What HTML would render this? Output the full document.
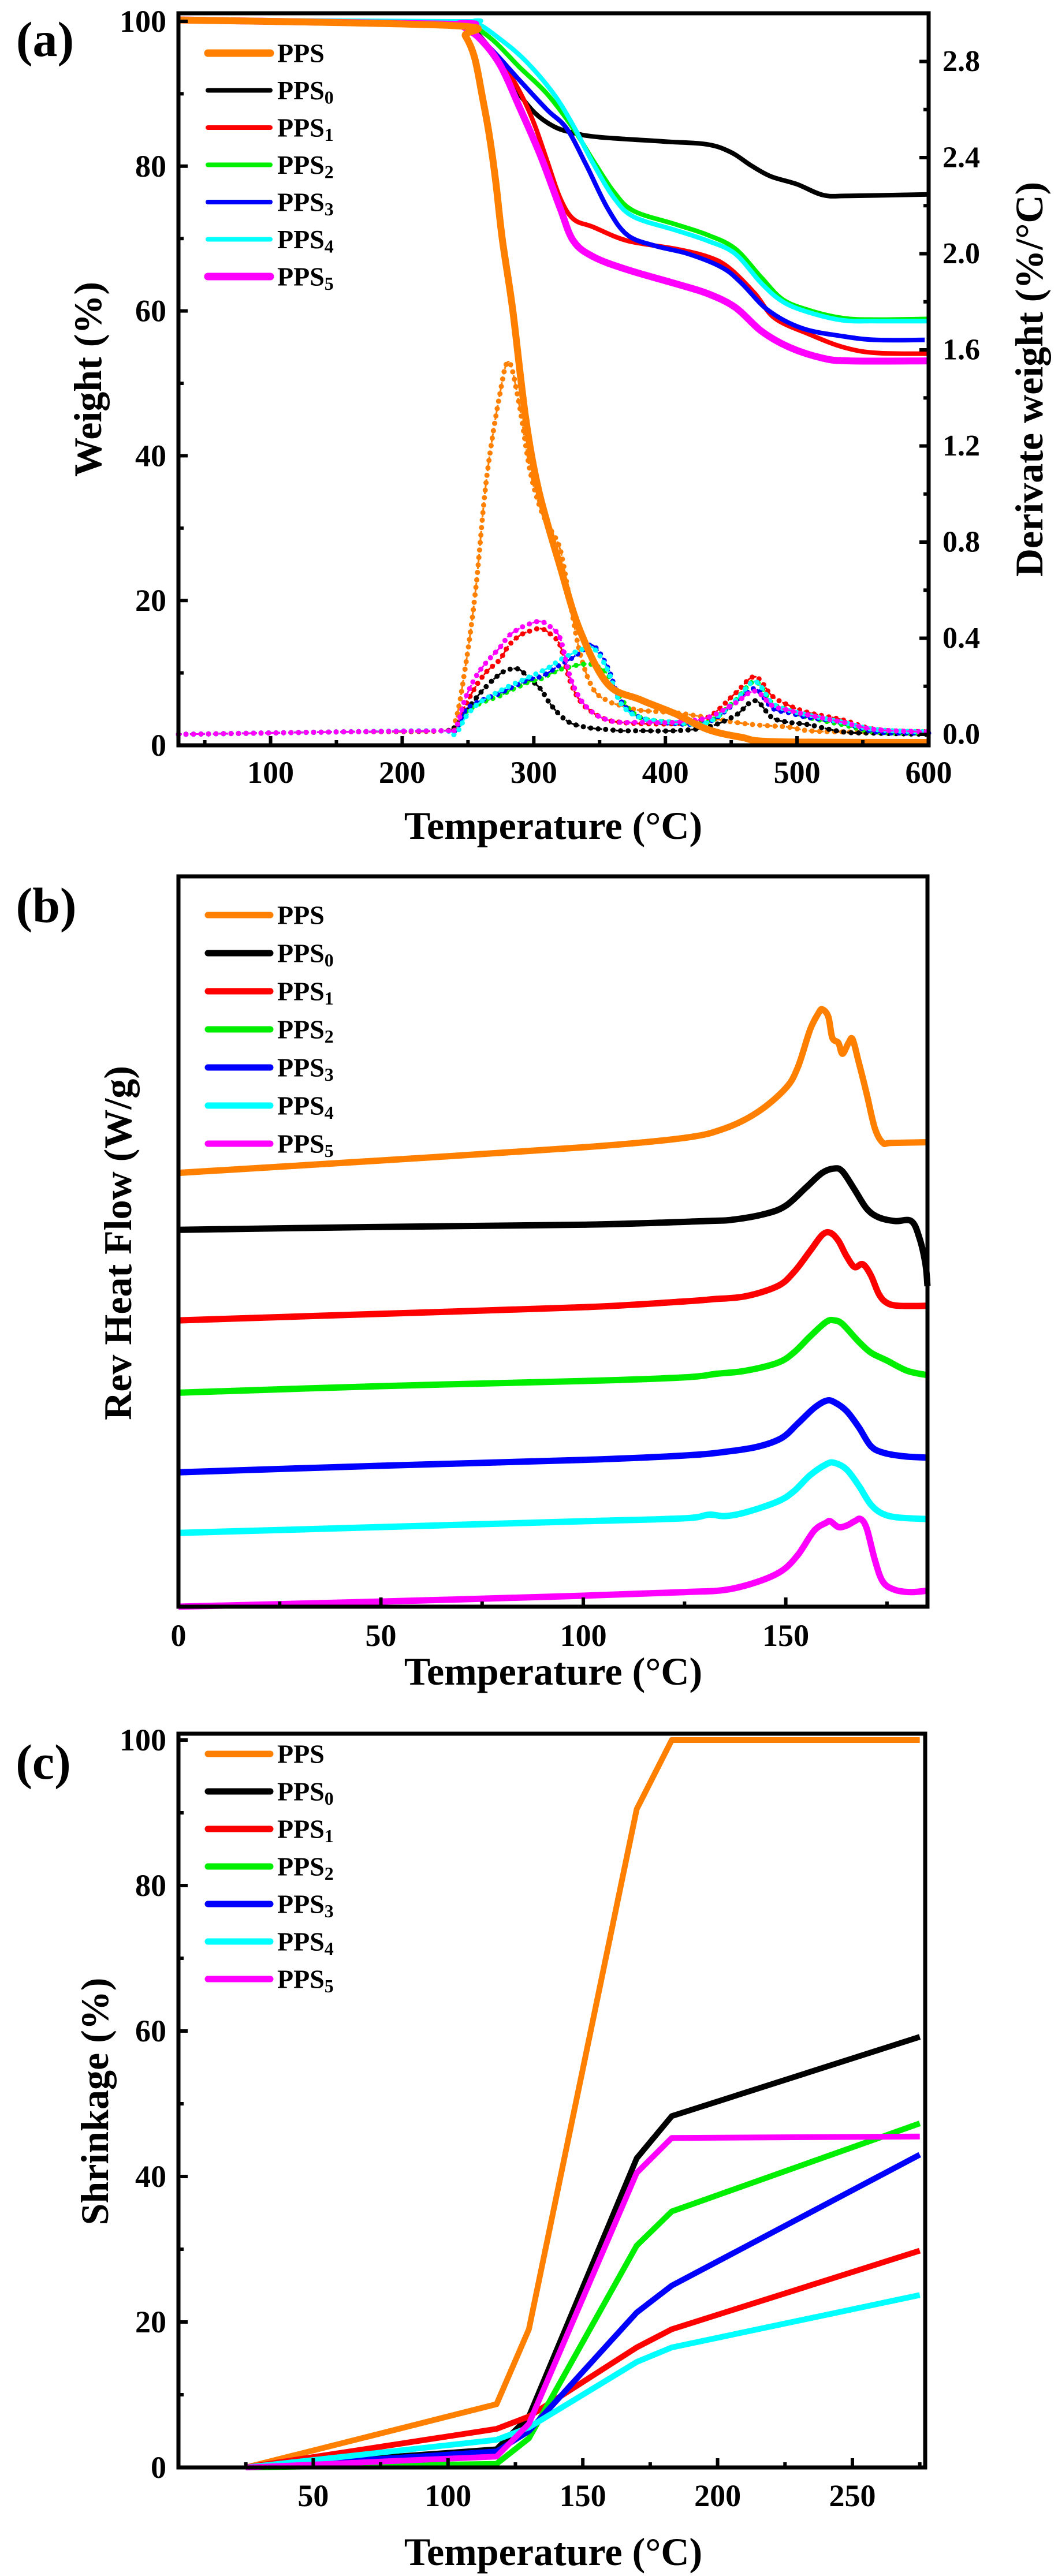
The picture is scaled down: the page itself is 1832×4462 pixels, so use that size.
<!DOCTYPE html>
<html><head><meta charset="utf-8"><style>
html,body{margin:0;padding:0;background:#fff}
svg{display:block}
text{font-family:"Liberation Serif","Times New Roman",serif;font-weight:bold;fill:#000}
</style></head><body>
<svg id="fig" xmlns="http://www.w3.org/2000/svg" width="1832" height="4462" viewBox="0 0 1832 4462" font-family="Liberation Serif, Times New Roman, serif" font-weight="bold"></svg>
<script>
// ---------- shared ----------
const names = ["PPS","PPS0","PPS1","PPS2","PPS3","PPS4","PPS5"];
const colors = ["#ff8000","#000000","#ff0000","#00ee00","#0000ff","#00ffff","#ff00ff"];

// ---------- panel (a) TGA data ----------
const tgaT = [
 [30,240,248,255,261,266,271,276,284,294,304,320,335,356,381,407,432,458,484,600],
 [30,240,250,270,285,300,315,330,350,400,432,450,465,480,500,520,540,600],
 [30,240,250,260,274,289,300,310,320,330,345,371,407,432,448,468,483,509,535,560,600],
 [30,240,250,269,289,310,330,345,361,376,407,432,453,473,489,509,535,560,600],
 [30,240,248,269,289,310,325,340,356,371,392,417,443,458,478,504,535,560,597],
 [30,240,255,274,294,315,330,345,361,376,407,432,453,473,489,509,535,560,600],
 [30,240,243,258,274,289,305,320,330,345,371,407,432,453,473,494,519,540,600]
];
const tgaW = [
 [100.2,99.4,98,95,89.5,84.5,78,70,60.1,45,35,24.7,15.9,8.5,6.3,4.4,2.2,1.1,0.5,0.4],
 [100.2,99.6,99.6,95.5,91,87.5,85.5,84.6,84,83.4,83,81.9,80.1,78.6,77.5,76,75.9,76.1],
 [100.2,99.5,99,97.5,94.8,90.4,86,80.8,75.6,72.7,71.6,69.7,68.6,67.5,66,62.4,59,56.8,55,54.2,54.1],
 [100.2,99.9,99.8,97.4,93.7,90,85.2,80.8,76.4,73.8,72,70.5,68.6,64.6,61.6,60.1,59,58.8,58.9],
 [100.2,99.7,99.4,95.9,91.9,87.8,85.2,80.1,74.2,70.5,69,67.9,66,63.8,60.1,57.6,56.5,56,56],
 [100.2,100,99.9,97.6,94.5,90,85.6,80.4,75.6,73,71.2,69.7,67.9,63.8,61.3,59.8,58.7,58.6,58.6],
 [100.2,99.6,99.6,97.8,94.1,88.2,81.5,74.2,69.7,67.5,65.7,63.8,62.4,60.5,57.2,55,53.5,53.1,53.1]
];
// ---------- panel (a) DTG data ----------
const dtgT = [30,150,230,240,248,256,264,274,281,289,297,305,312,320,327,335,345,356,366,381,407,432,453,468,481,494,509,535,560,600];
const dtgD = [
 [0,0.01,0.015,0.05,0.28,0.61,1.06,1.41,1.55,1.37,1.1,0.94,0.86,0.77,0.57,0.34,0.19,0.14,0.12,0.1,0.09,0.07,0.05,0.04,0.035,0.03,0.015,0.01,0.008,0.005],
 [0,0.01,0.015,0.03,0.09,0.15,0.2,0.25,0.27,0.27,0.23,0.19,0.13,0.08,0.05,0.035,0.025,0.02,0.015,0.015,0.015,0.03,0.078,0.14,0.07,0.05,0.04,0.01,0.005,0],
 [0,0.01,0.015,0.02,0.12,0.2,0.26,0.31,0.37,0.41,0.43,0.44,0.42,0.37,0.23,0.14,0.09,0.06,0.05,0.045,0.045,0.07,0.17,0.24,0.16,0.12,0.09,0.06,0.02,0.01],
 [0,0.01,0.015,0.015,0.09,0.12,0.14,0.16,0.18,0.2,0.22,0.23,0.25,0.27,0.28,0.29,0.29,0.25,0.15,0.07,0.05,0.05,0.14,0.22,0.13,0.1,0.07,0.04,0.01,0.005],
 [0,0.01,0.015,0.015,0.1,0.13,0.15,0.17,0.19,0.21,0.23,0.24,0.26,0.29,0.31,0.34,0.37,0.28,0.14,0.07,0.045,0.05,0.13,0.19,0.11,0.09,0.07,0.05,0.01,0.005],
 [0,0.01,0.015,0,0.07,0.12,0.15,0.18,0.2,0.22,0.24,0.26,0.28,0.31,0.33,0.35,0.36,0.27,0.13,0.07,0.05,0.05,0.14,0.22,0.13,0.1,0.08,0.05,0.02,0.01],
 [0,0.01,0.015,0.02,0.15,0.24,0.3,0.36,0.41,0.44,0.46,0.47,0.45,0.4,0.25,0.15,0.09,0.06,0.05,0.05,0.05,0.07,0.13,0.18,0.12,0.1,0.08,0.05,0.02,0.01]
];
const aXTicks = [100,200,300,400,500,600];
const aYTicks = [0,20,40,60,80,100];
const aY2Ticks = ["0.0","0.4","0.8","1.2","1.6","2.0","2.4","2.8"];

// ---------- panel (b) data ----------
const hfT = [
 [0,50,100,125,135,143,150,153,156,158,159,160.5,161.5,163,164,165.5,166.5,168,170,172,174,176,185],
 [0,50,100,130,137,145,150,155,159,162,164,167,170,173,177,181,183,184.5,185],
 [0,50,100,125,132,140,148,152,156,159,161,163,165,167,169,171,173,175,178,185],
 [0,50,100,125,133,140,148,152,156,160,162,164,168,171,175,180,185],
 [0,50,100,125,135,143,149,153,157,160,162,165,168,171,174,179,185],
 [0,50,100,125,131,135,140,148,152,156,160,162,165,168,171,174,178,185],
 [0,50,100,125,135,143,149,153,157,160,161,163,165,167,168.5,170,172,174,177,181,185]
];
const hfV = [
 [59.4,61.1,62.9,64.2,65.5,67.7,71,73.9,79,81.2,81.8,80.8,77.9,77.2,75.7,77.2,77.7,74.6,70.2,65.5,63.5,63.5,63.6],
 [51.6,52,52.3,52.8,53,53.8,54.9,57.4,59.4,60,59.6,57.1,54.5,53.3,52.8,52.8,50.5,46.9,43.9],
 [39.2,40.1,41,41.8,42.1,42.5,43.9,45.8,48.7,50.9,51.2,50.1,48,46.5,46.9,45.4,42.8,41.6,41.2,41.2],
 [29.3,30.2,30.9,31.4,31.9,32.3,33.4,34.8,37,39,39.2,38.7,36.3,34.8,33.7,32.3,31.7],
 [18.4,19.3,20.1,20.7,21.2,21.9,23.1,25.1,27.2,28.2,28,26.8,24.6,22,21.1,20.6,20.4],
 [10.1,10.9,11.7,12.1,12.6,12.4,12.9,14.4,15.8,18,19.5,19.7,18.8,16.6,14,12.7,12.2,12],
 [0,0.7,1.5,2,2.3,3.4,4.9,7.1,10.4,11.5,11.7,10.9,11.1,11.7,12,10.7,6.4,3.4,2.3,2,2.2]
];
const bXTicks = [0,50,100,150];

// ---------- panel (c) data ----------
const shT = [25,118,130,170,183,275];
const shV = [
 [0,8.7,19,90.5,100,100],
 [0,2.5,7,42.5,48.3,59.2],
 [0,5.3,7,16.5,19,29.8],
 [0,0.5,4,30.5,35.2,47.3],
 [0,2.2,5,21.3,25,43],
 [0,3.8,5.5,14.5,16.5,23.7],
 [0,1.5,6,40.5,45.3,45.5]
];
const cXTicks = [50,100,150,200,250];
const cYTicks = [0,20,40,60,80,100];

// ---------- helpers ----------
const NS = "http://www.w3.org/2000/svg";
const svg = document.getElementById("fig");
function mk(tag, attrs, parent){
  const e = document.createElementNS(NS, tag);
  for (const k in attrs) e.setAttribute(k, attrs[k]);
  (parent||svg).appendChild(e);
  return e;
}
function scale(d0,d1,r0,r1){ return v => r0 + (v-d0)/(d1-d0)*(r1-r0); }
function smoothPath(pts){
  if(pts.length<3) return "M"+pts.map(p=>p.join(",")).join("L");
  let d="M"+pts[0][0]+","+pts[0][1];
  for(let i=0;i<pts.length-1;i++){
    const p0=pts[Math.max(0,i-1)],p1=pts[i],p2=pts[i+1],p3=pts[Math.min(pts.length-1,i+2)];
    const c1=[p1[0]+(p2[0]-p0[0])/6,p1[1]+(p2[1]-p0[1])/6];
    const c2=[p2[0]-(p3[0]-p1[0])/6,p2[1]-(p3[1]-p1[1])/6];
    d+="C"+c1[0].toFixed(1)+","+c1[1].toFixed(1)+" "+c2[0].toFixed(1)+","+c2[1].toFixed(1)+" "+p2[0].toFixed(1)+","+p2[1].toFixed(1);
  }
  return d;
}
function label(txt,x,y,size,anchor,rot,parent){
  const t = mk("text",{x:x,y:y,"font-size":size,"text-anchor":anchor||"middle","dominant-baseline":"central","font-family":"Liberation Serif, serif","font-weight":"bold"},parent);
  if(rot) t.setAttribute("transform","rotate("+rot+" "+x+" "+y+")");
  t.textContent = txt;
  return t;
}
function frame(g,L,T,R,B){
  const r = mk("rect",{x:L,y:T,width:R-L,height:B-T,fill:"none",stroke:"#000","stroke-width":7},g);
  
  
}
function legend(g,x,y0,dy,widths){
  for(let i=0;i<names.length;i++){
    const lg = mk("g",{},g);
    
    
    const y = y0+i*dy;
    mk("line",{x1:x,y1:y,x2:x+108,y2:y,stroke:colors[i],"stroke-width":widths[i],"stroke-linecap":"round"},lg);
    const t = mk("text",{x:x+120,y:y,"font-size":46,"dominant-baseline":"central","font-family":"Liberation Serif, serif","font-weight":"bold"},lg);
    t.textContent = "PPS";
    if(i>0){
      const s = mk("tspan",{"font-size":32,dy:12},t);
      s.textContent = String(i-1);
    }
  }
}

// ================= PANEL A =================
(function(){
  const g = mk("g",{});  
  const L=309,R=1608,T=23,B=1291;
  const x = scale(30,600,L,R);
  const y = scale(0,100,B,37);
  const y2 = scale(0,0.4,1272,1105.5);
  const dg = mk("g",{},g);  
  dtgD.forEach((arr,i)=>{
    const pts = dtgT.map((t,j)=>[x(t),y2(arr[j])]);
    const p = mk("path",{d:smoothPath(pts),fill:"none",stroke:colors[i],"stroke-width":3,"stroke-dasharray":"6 4"},dg);
    
    
    const len = p.getTotalLength();
    for(let s=0;s<len;s+=13){
      const q = p.getPointAtLength(s);
      const c = mk("circle",{cx:q.x.toFixed(1),cy:q.y.toFixed(1),r:4.5,fill:colors[i]},dg);
      
      
    }
  });
  const tg = mk("g",{},g);  
  const order=[1,2,3,4,5,6,0];
  order.forEach(i=>{
    const pts = tgaT[i].map((t,j)=>[x(t),y(tgaW[i][j])]);
    const p = mk("path",{d:smoothPath(pts),fill:"none",stroke:colors[i],"stroke-width":(i===0||i===6)?12:8,"stroke-linejoin":"round"},tg);
    
    
  });
  frame(g,L,T,R,B);
  for(let v=50; v<=600; v+=50){
    const major = v%100===0;
    mk("line",{x1:x(v),x2:x(v),y1:B,y2:B-(major?16:9),stroke:"#000","stroke-width":6},g);
  }
  aXTicks.forEach(v=>{ const t=label(String(v),x(v),1338,54,"middle",0,g);   });
  for(let v=0; v<=100; v+=10){
    mk("line",{x1:L,x2:L+(v%20===0?16:9),y1:y(v),y2:y(v),stroke:"#000","stroke-width":6},g);
  }
  aYTicks.forEach(v=>{ const t=label(String(v),288,y(v),54,"end",0,g);   });
  for(let k=0;k<=14;k++){
    const v=k*0.2;
    mk("line",{x1:R,x2:R-(k%2===0?16:9),y1:y2(v),y2:y2(v),stroke:"#000","stroke-width":6},g);
  }
  aY2Ticks.forEach(s=>{ const t=label(s,1632,y2(parseFloat(s)),52,"start",0,g);   });
  let t;
  t=label("Temperature (°C)",958,1430,68,"middle",0,g);  
  t=label("Weight (%)",152,657,68,"middle",-90,g);  
  t=label("Derivate weight (%/°C)",1782,657,68,"middle",-90,g);  
  t=label("(a)",78,68,86,"middle",0,g);  
  const lg = mk("g",{},g);  
  legend(lg,360,92,64.5,[13,8,8,8,8,8,13]);
})();

// ================= PANEL B =================
(function(){
  const g = mk("g",{});  
  const L=309,R=1606,T=1518,B=2783;
  const x = scale(0,185,L,R);
  const y = scale(0,100,B,T);
  hfV.forEach((arr,i)=>{
    const pts = hfT[i].map((t,j)=>[x(t),y(arr[j])]);
    const p = mk("path",{d:smoothPath(pts),fill:"none",stroke:colors[i],"stroke-width":11,"stroke-linejoin":"round"},g);
    
    
  });
  frame(g,L,T,R,B);
  for(let v=25; v<=175; v+=25){
    mk("line",{x1:x(v),x2:x(v),y1:B,y2:B-(v%50===0?16:9),stroke:"#000","stroke-width":6},g);
  }
  bXTicks.forEach(v=>{ const t=label(String(v),x(v),2833,54,"middle",0,g);   });
  let t;
  t=label("Temperature (°C)",958,2895,68,"middle",0,g);  
  t=label("Rev Heat Flow (W/g)",204,2153,68,"middle",-90,g);  
  t=label("(b)",80,1568,86,"middle",0,g);  
  const lg = mk("g",{},g);  
  legend(lg,360,1585,66,[11,11,11,11,11,11,11]);
})();

// ================= PANEL C =================
(function(){
  const g = mk("g",{});  
  const L=309,R=1602,T=3003,B=4274;
  const x = scale(0,277,L,R);
  const y = scale(0,100,B,3014);
  shV.forEach((arr,i)=>{
    const pts = shT.map((t,j)=>[x(t),y(arr[j])]);
    const p = mk("polyline",{points:pts.map(p=>p[0].toFixed(1)+","+p[1].toFixed(1)).join(" "),fill:"none",stroke:colors[i],"stroke-width":10,"stroke-linejoin":"round"},g);
    
    
  });
  frame(g,L,T,R,B);
  for(let v=25; v<=275; v+=25){
    mk("line",{x1:x(v),x2:x(v),y1:B,y2:B-(v%50===0?16:9),stroke:"#000","stroke-width":6},g);
  }
  cXTicks.forEach(v=>{ const t=label(String(v),x(v),4323,54,"middle",0,g);   });
  for(let v=0; v<=100; v+=10){
    mk("line",{x1:L,x2:L+(v%20===0?16:9),y1:y(v),y2:y(v),stroke:"#000","stroke-width":6},g);
  }
  cYTicks.forEach(v=>{ const t=label(String(v),288,y(v),54,"end",0,g);   });
  let t;
  t=label("Temperature (°C)",958,4420,68,"middle",0,g);  
  t=label("Shrinkage (%)",164,3640,68,"middle",-90,g);  
  t=label("(c)",75,3052,86,"middle",0,g);  
  const lg = mk("g",{},g);  
  legend(lg,360,3038,65,[11,11,11,11,11,11,11]);
})();
</script>
</body></html>
